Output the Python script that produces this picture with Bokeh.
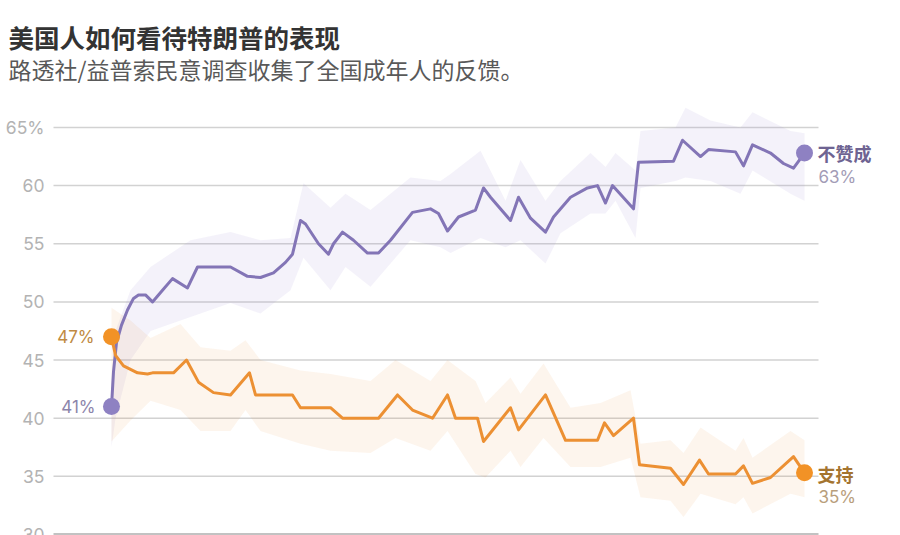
from bokeh.plotting import figure
from bokeh.models import Range1d
from bokeh.embed import file_html
from bokeh.resources import INLINE
from bokeh.core.properties import value

# ---------------- data ----------------
title_text = "美国人如何看待特朗普的表现"
subtitle_text = "路透社/益普索民意调查收集了全国成年人的反馈。"
series_names = ["不赞成", "支持"]
start_labels = ["41%", "47%"]
end_labels = ["63%", "35%"]
y_ticks = [30, 35, 40, 45, 50, 55, 60, 65]
y_tick_labels = ["30", "35", "40", "45", "50", "55", "60", "65%"]

# days since start of survey period
disapprove_days = [0, 1, 2.5, 5, 8, 11, 13.5, 17, 20.5, 25.5,
                   30.5, 38, 43, 59.5, 68, 74.5, 81, 87, 90.5, 94.5,
                   97, 103.5, 108.5, 111, 115.5, 121, 128, 133.5, 139.5, 150.5,
                   159.5, 163.5, 168, 173.5, 182, 186, 189.5, 199.5, 203.5, 209.5,
                   217, 221, 229.5, 238, 243, 247, 250.5, 261, 263.5, 281,
                   285.5, 294.5, 298.5, 312, 316, 320.5, 329.5, 336, 341, 346.5]
disapprove_pct = [41, 44, 46.5, 48, 49.3, 50.3, 50.6, 50.6, 50, 51,
                  52, 51.2, 53, 53, 52.2, 52.1, 52.5, 53.4, 54.1, 57,
                  56.7, 55, 54.1, 55, 56, 55.3, 54.2, 54.2, 55.3, 57.7,
                  58, 57.6, 56.1, 57.3, 57.9, 59.8, 59, 57, 59, 57.2,
                  56, 57.3, 59, 59.8, 60, 58.5, 60, 58, 62, 62.1,
                  63.9, 62.5, 63.1, 62.9, 61.7, 63.5, 62.8, 61.9, 61.5, 62.8]

approve_days = [0, 2, 6, 13, 18, 20.5, 31, 37.5, 43.5, 51,
                59.5, 69, 72, 90.5, 94.5, 109.5, 115.5, 133.5, 143, 150.5,
                160.5, 168, 172, 183, 186, 199.5, 203.5, 217, 227, 243,
                246.5, 251, 261, 264, 279.5, 286, 294, 298.5, 312, 316,
                320.5, 329.5, 341, 346.5]
approve_pct = [47, 45.4, 44.5, 43.9, 43.8, 43.9, 43.9, 45, 43.1, 42.2,
               42, 43.9, 42, 42, 40.9, 40.9, 40, 40, 42, 40.7,
               40, 42, 40, 40, 38, 40.9, 39, 42, 38.1, 38.1,
               39.6, 38.5, 40, 36, 35.7, 34.3, 36.4, 35.2, 35.2, 35.9,
               34.4, 34.9, 36.7, 35.3]

disapprove_band_days = [0, 2, 9.5, 19.5, 39.5, 59.5, 74.5, 89.5, 96, 109.5,
                        117, 129.5, 149.5, 164.5, 169.5, 184.5, 197, 204.5, 217, 224.5,
                        239.5, 247, 252, 262, 264.5, 282, 287, 299.5, 314.5, 320.5,
                        339.5, 346.5]
disapprove_upper = [43, 47.5, 51, 53, 55.3, 56, 55.3, 55.5, 60.2, 58.1,
                    59.3, 57.9, 60.7, 60.4, 61, 63, 58.7, 62.2, 58.7, 60.4,
                    62.8, 61.6, 62.8, 61.3, 64.7, 65, 66.7, 65.6, 65, 66.3,
                    64.7, 64.5]
disapprove_lower = [37.5, 40, 45, 47.5, 48.7, 49.9, 49, 51, 53.8, 51,
                    53, 51.3, 55.3, 54.7, 54.2, 55.5, 54.7, 55.3, 53.3, 55.9,
                    57.6, 57.6, 58.7, 55.5, 59.8, 60.4, 60.7, 60.4, 59.3, 61.3,
                    59.3, 58.7]

approve_band_days = [0, 9.5, 19.5, 34.5, 44.5, 59.5, 67, 74.5, 94.5, 109.5,
                     129.5, 142, 159.5, 168, 182, 187, 199.5, 204.5, 216, 229.5,
                     244.5, 259.5, 264.5, 279.5, 286, 294.5, 312, 316, 320.5, 339.5,
                     346.5]
approve_upper = [49.5, 48.4, 46.9, 48.1, 46.1, 45.8, 46.7, 45, 44.1, 43.8,
                 43.2, 45, 43.2, 45, 43.2, 41.3, 43.5, 42.1, 44.7, 40.9,
                 41.3, 42.4, 37.8, 38.1, 37, 39.2, 37.2, 38.3, 36.6, 38.9,
                 38.1]
approve_lower = [38, 39.8, 41.5, 40.7, 38.9, 38.9, 40.7, 38.9, 37.8, 37.2,
                 37, 38.3, 37.2, 38.9, 35.2, 34.9, 37.2, 35.8, 38.3, 35.8,
                 35.8, 36.6, 33.2, 32.9, 31.5, 33.5, 32.6, 33.2, 31.8, 33.5,
                 33.2]

# ---------------- layout / style ----------------
W, H = 900, 535
X0_PX, DAY_PX = 111.0, 2.0          # pixel of day 0, pixels per day
Y30_PX, PCT_PX = 534.0, 11.63       # pixel of 30 %, pixels per percentage point


def xd(px):
    return (px - X0_PX) / DAY_PX


def yd(py):
    return 30 + (Y30_PX - py) / PCT_PX


PURPLE = "#8375b6"
PURPLE_DOT = "#8e81c2"
ORANGE = "#ec9033"
ORANGE_DOT = "#f29226"
CJK = value("Noto Sans CJK SC")
NUM = value("Inter")

p = figure(width=W, height=H, x_range=Range1d(xd(0), xd(W)), y_range=Range1d(yd(H), yd(0)),
           toolbar_location=None, output_backend="svg", title=None, min_border=0,
           outline_line_color=None)
p.axis.visible = False
p.grid.visible = False

grid_x0, grid_x1 = xd(53), xd(818)

# gridlines
p.segment(x0=[grid_x0] * (len(y_ticks) - 1), x1=[grid_x1] * (len(y_ticks) - 1),
          y0=y_ticks[1:], y1=y_ticks[1:], line_color="#d2d2d2", line_width=1.5)
p.segment(x0=[grid_x0], x1=[grid_x1], y0=y_ticks[:1], y1=y_ticks[:1],
          line_color="#c2c2c2", line_width=3)
# tick labels
p.text(x=[xd(44)] * len(y_ticks), y=y_ticks, text=y_tick_labels, text_font=NUM,
       text_font_size="17.5px", text_color="#b3b3b3", text_align="right",
       text_baseline="middle")

# confidence bands
p.varea(x=disapprove_band_days, y1=disapprove_lower, y2=disapprove_upper,
        fill_color="#9a88d0", fill_alpha=0.11)
p.varea(x=approve_band_days, y1=approve_lower, y2=approve_upper,
        fill_color=ORANGE, fill_alpha=0.085)

# lines
p.line(disapprove_days, disapprove_pct, line_color=PURPLE, line_width=3, line_join="round")
p.line(approve_days, approve_pct, line_color=ORANGE, line_width=3, line_join="round")

# end dots
p.scatter([disapprove_days[0], disapprove_days[-1]], [disapprove_pct[0], disapprove_pct[-1]],
          size=17, fill_color=PURPLE_DOT, line_color=None)
p.scatter([approve_days[0], approve_days[-1]], [approve_pct[0], approve_pct[-1]],
          size=17, fill_color=ORANGE_DOT, line_color=None)

# start labels
p.text(x=[disapprove_days[0]], y=[disapprove_pct[0]], text=[start_labels[0]],
       x_offset=-16, text_align="right", text_baseline="middle",
       text_font=NUM, text_font_size="17px", text_color="#8c84aa")
p.text(x=[approve_days[0]], y=[approve_pct[0]], text=[start_labels[1]],
       x_offset=-17, text_align="right", text_baseline="middle",
       text_font=NUM, text_font_size="17px", text_color="#c08a42")

# end labels
p.text(x=[disapprove_days[-1]], y=[disapprove_pct[-1]], text=[series_names[0]],
       x_offset=13, y_offset=0, text_align="left", text_baseline="middle",
       text_font=CJK, text_font_size="18px", text_font_style="bold", text_color="#6e6392")
p.text(x=[disapprove_days[-1]], y=[disapprove_pct[-1]], text=[end_labels[0]],
       x_offset=14, y_offset=24, text_align="left", text_baseline="middle",
       text_font=NUM, text_font_size="17px", text_color="#a39cb6")
p.text(x=[approve_days[-1]], y=[approve_pct[-1]], text=[series_names[1]],
       x_offset=13, y_offset=1, text_align="left", text_baseline="middle",
       text_font=CJK, text_font_size="18px", text_font_style="bold", text_color="#a4742f")
p.text(x=[approve_days[-1]], y=[approve_pct[-1]], text=[end_labels[1]],
       x_offset=14, y_offset=24, text_align="left", text_baseline="middle",
       text_font=NUM, text_font_size="17px", text_color="#b89e7c")

# title and subtitle
p.text(x=[xd(8)], y=[yd(36)], text=[title_text], text_font=CJK, text_font_size="25.5px",
       text_font_style="bold", text_color="#333333", text_align="left", text_baseline="middle")
p.text(x=[xd(8)], y=[yd(68)], text=[subtitle_text], text_font=CJK, text_font_size="23px",
       text_color="#595959", text_align="left", text_baseline="middle")

open("out.html", "w").write(file_html(p, INLINE))
